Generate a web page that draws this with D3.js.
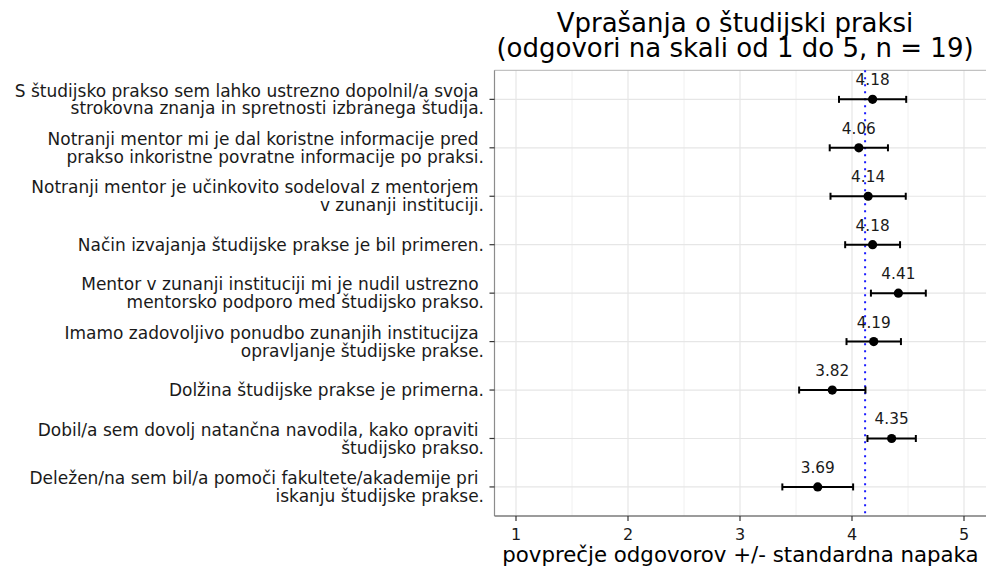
<!DOCTYPE html>
<html>
<head>
<meta charset="utf-8">
<script src="https://cdn.jsdelivr.net/npm/d3@7"></script>
<style>
  html, body { margin: 0; padding: 0; background: #fff; }
  svg { display: block; font-family: "DejaVu Sans", sans-serif; }
  text { white-space: pre; }
</style>
</head>
<body>
<svg id="chart" width="986" height="572"></svg>
<script>
// ---- data ----
const categories = [
  "S študijsko prakso sem lahko ustrezno dopolnil/a svoja \nstrokovna znanja in spretnosti izbranega študija.",
  "Notranji mentor mi je dal koristne informacije pred \nprakso inkoristne povratne informacije po praksi.",
  "Notranji mentor je učinkovito sodeloval z mentorjem \nv zunanji instituciji.",
  "Način izvajanja študijske prakse je bil primeren.",
  "Mentor v zunanji instituciji mi je nudil ustrezno \nmentorsko podporo med študijsko prakso.",
  "Imamo zadovoljivo ponudbo zunanjih institucijza \nopravljanje študijske prakse.",
  "Dolžina študijske prakse je primerna.",
  "Dobil/a sem dovolj natančna navodila, kako opraviti \nštudijsko prakso.",
  "Deležen/na sem bil/a pomoči fakultete/akademije pri \niskanju študijske prakse."
];
const means = [4.184, 4.061, 4.144, 4.184, 4.414, 4.194, 3.824, 4.354, 3.694];
const stdErrors = [0.30, 0.26, 0.336, 0.245, 0.245, 0.243, 0.296, 0.216, 0.316];
const xTicks = [1, 2, 3, 4, 5];
const xMinorTicks = [1.5, 2.5, 3.5, 4.5];
const titleLines = ["Vprašanja o študijski praksi", "(odgovori na skali od 1 do 5, n = 19)"];
const xTitle = "povprečje odgovorov +/- standardna napaka";

// ---- layout ----
const svg = d3.select("#chart");
const panel = { left: 494.5, right: 986.4, top: 70.3, bottom: 516 };

const x = d3.scaleLinear().domain([0.8, 5.2]).range([panel.left - 0.9, panel.right]);
const y = d3.scalePoint().domain(d3.range(categories.length)).range([panel.top, panel.bottom]).padding(0.6);

const data = categories.map((c, i) => ({ i, label: c, mean: means[i], se: stdErrors[i] }));

// grid
const g = svg.append("g");
g.selectAll("line.minor").data(xMinorTicks).join("line")
  .attr("x1", d => x(d)).attr("x2", d => x(d))
  .attr("y1", panel.top).attr("y2", panel.bottom)
  .attr("stroke", "#f0f0f0").attr("stroke-width", 1);
g.selectAll("line.major").data(xTicks).join("line")
  .attr("x1", d => x(d)).attr("x2", d => x(d))
  .attr("y1", panel.top).attr("y2", panel.bottom)
  .attr("stroke", "#e6e6e6").attr("stroke-width", 1.2);
g.selectAll("line.hgrid").data(data).join("line")
  .attr("x1", panel.left).attr("x2", panel.right)
  .attr("y1", d => y(d.i)).attr("y2", d => y(d.i))
  .attr("stroke", "#e6e6e6").attr("stroke-width", 1.2);

// panel border (top)
g.append("line").attr("x1", panel.left).attr("x2", panel.right)
  .attr("y1", panel.top).attr("y2", panel.top)
  .attr("stroke", "#b3b3b3").attr("stroke-width", 1);

// mean-of-means dotted line
const overall = d3.mean(means);
g.append("line")
  .attr("x1", x(overall)).attr("x2", x(overall))
  .attr("y1", panel.top).attr("y2", panel.bottom)
  .attr("stroke", "#1a1aff").attr("stroke-width", 2)
  .attr("stroke-dasharray", "2,5");

// error bars
const capH = 3.5;
const eb = g.selectAll("g.eb").data(data).join("g");
eb.append("line")
  .attr("x1", d => x(d.mean - d.se)).attr("x2", d => x(d.mean + d.se))
  .attr("y1", d => y(d.i)).attr("y2", d => y(d.i))
  .attr("stroke", "#000").attr("stroke-width", 2);
eb.append("line")
  .attr("x1", d => x(d.mean - d.se)).attr("x2", d => x(d.mean - d.se))
  .attr("y1", d => y(d.i) - capH).attr("y2", d => y(d.i) + capH)
  .attr("stroke", "#000").attr("stroke-width", 2);
eb.append("line")
  .attr("x1", d => x(d.mean + d.se)).attr("x2", d => x(d.mean + d.se))
  .attr("y1", d => y(d.i) - capH).attr("y2", d => y(d.i) + capH)
  .attr("stroke", "#000").attr("stroke-width", 2);
eb.append("circle")
  .attr("cx", d => x(d.mean)).attr("cy", d => y(d.i)).attr("r", 4.6)
  .attr("fill", "#000");
eb.append("text")
  .attr("x", d => x(d.mean)).attr("y", d => y(d.i) - 14)
  .attr("text-anchor", "middle").attr("font-size", 15.3).attr("fill", "#1a1a1a")
  .text(d => d3.format(".2f")(d.mean));

// axes lines
svg.append("line").attr("x1", panel.left).attr("x2", panel.left)
  .attr("y1", panel.top).attr("y2", panel.bottom)
  .attr("stroke", "#8c8c8c").attr("stroke-width", 1.2);
svg.append("line").attr("x1", panel.left).attr("x2", panel.right)
  .attr("y1", panel.bottom).attr("y2", panel.bottom)
  .attr("stroke", "#7a7a7a").attr("stroke-width", 1.6);

// x ticks
const xt = svg.selectAll("g.xt").data(xTicks).join("g");
xt.append("line").attr("x1", d => x(d)).attr("x2", d => x(d))
  .attr("y1", panel.bottom).attr("y2", panel.bottom + 5)
  .attr("stroke", "#333").attr("stroke-width", 1.2);
xt.append("text").attr("x", d => x(d)).attr("y", panel.bottom + 23.5)
  .attr("text-anchor", "middle").attr("font-size", 16).attr("fill", "#1a1a1a")
  .text(d => d);

// y ticks + labels
const yt = svg.selectAll("g.yt").data(data).join("g");
yt.append("line").attr("x1", panel.left - 5).attr("x2", panel.left)
  .attr("y1", d => y(d.i)).attr("y2", d => y(d.i))
  .attr("stroke", "#333").attr("stroke-width", 1.2);
const lineH = 17.8;
const yfs = 17;
yt.each(function(d) {
  const lines = d.label.split("\n");
  const t = d3.select(this).append("text")
    .attr("text-anchor", "end").attr("font-size", yfs).attr("fill", "#1a1a1a");
  const n = lines.length;
  lines.forEach((ln, k) => {
    t.append("tspan").attr("x", panel.left - 10.5)
      .attr("y", y(d.i) + (k - (n - 1) / 2) * lineH + 0.36 * yfs)
      .text(ln);
  });
});

// title
const tcx = 735;
svg.append("text").attr("x", tcx).attr("y", 31.5).attr("text-anchor", "middle")
  .attr("font-size", 26).attr("fill", "#000").text(titleLines[0]);
svg.append("text").attr("x", tcx).attr("y", 57).attr("text-anchor", "middle")
  .attr("font-size", 26).attr("fill", "#000").text(titleLines[1]);

// x axis title
svg.append("text").attr("x", (panel.left + panel.right) / 2).attr("y", 562)
  .attr("text-anchor", "middle").attr("font-size", 21.3).attr("fill", "#000").text(xTitle);
</script>
</body>
</html>
